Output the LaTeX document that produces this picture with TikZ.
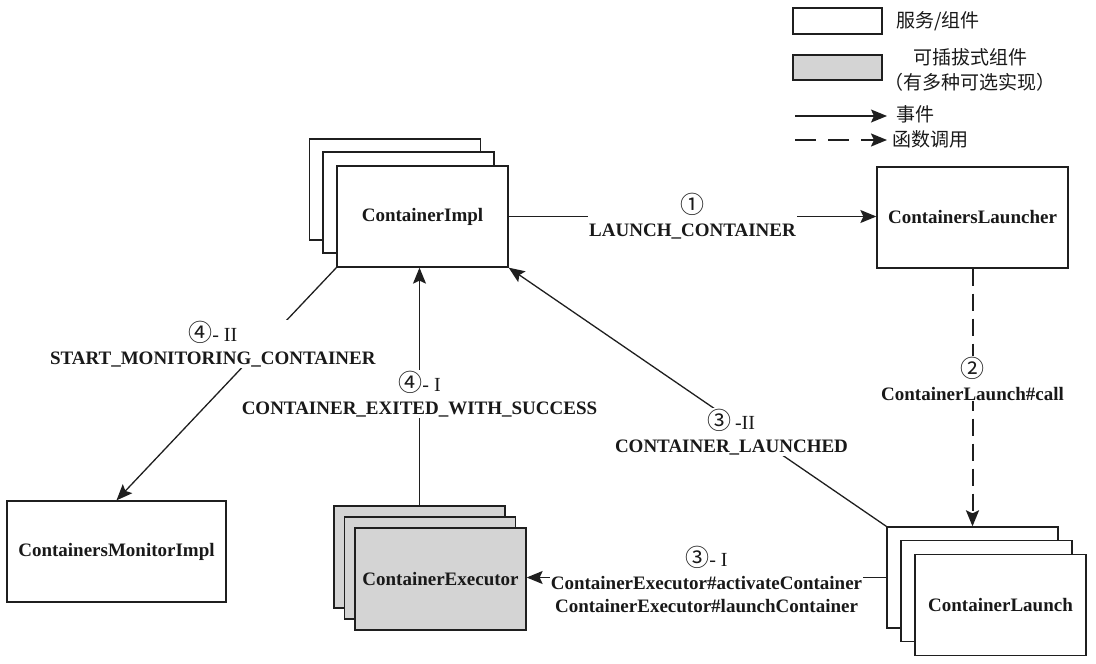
\documentclass[tikz,border=0pt]{standalone}
\usepackage{fontspec}
\setmainfont{Liberation Serif}
\newfontfamily\cjk{Noto Sans CJK SC}
\usetikzlibrary{arrows.meta}
\newcommand\circnum[1]{{\cjk\mdseries\fontsize{24}{23}\selectfont #1}}
\newcommand\rmnum[1]{{\mdseries\fontsize{20}{23}\selectfont #1}}
\begin{document}
\begin{tikzpicture}[x=1pt,y=-1pt,
  box/.style={draw=black!88, line width=1.3pt, fill=white, minimum width=171pt,
    minimum height=101pt, inner sep=0pt, text=black!90,
    font=\fontsize{19}{22}\selectfont\bfseries},
  plug/.style={box, fill=black!17},
  tip/.style={-{Stealth[length=16pt,width=13pt,inset=3pt]}},
  evt/.style={tip, draw=black!88, line width=1.3pt},
  fcall/.style={evt, line width=2pt, dash pattern=on 17pt off 8pt},
  lbl/.style={fill=white, align=center, inner sep=1pt, text=black!90,
    font=\fontsize{19}{23}\selectfont\bfseries},
  legtxt/.style={text=black!90, inner sep=0pt, font=\cjk\fontsize{19}{25}\selectfont}
]
\useasboundingbox (0,0) rectangle (1096,664);

% ---------- legend ----------
\node[box, minimum width=89pt, minimum height=26pt] (legsvc) at (837.5,21) {};
\node[legtxt, anchor=west] (legsvctxt) at (896,21) {服务/组件};
\node[plug, minimum width=89pt, minimum height=25pt] (legplug) at (837.5,67.5) {};
\node[legtxt, align=center] (legplugtxt) at (970,70) {可插拔式组件\\（有多种可选实现）};
\coordinate (evA) at (795,116);
\coordinate (evB) at (887,116);
\draw[evt] (evA) -- (evB);
\node[legtxt, anchor=west] (evtxt) at (896,114) {事件};
\coordinate (fcA) at (795,140);
\coordinate (fcB) at (887,140);
\draw[evt, line width=2pt, dash pattern=on 21pt off 12pt] (fcA) -- (fcB);
\node[legtxt, anchor=west] (fctxt) at (892,139) {函数调用};

% ---------- ContainerImpl stack ----------
\node[box] (ciB) at (395,189.5) {};
\node[box] (ciM) at (408.5,202.5) {};
\node[box] (ci) at (422.5,216.5) {ContainerImpl};

% ---------- ContainersLauncher ----------
\node[box, minimum width=191pt] (cl) at (972.5,217.5) {ContainersLauncher};

% ---------- ContainersMonitorImpl ----------
\node[box, minimum width=219pt] (cmi) at (116.5,551.5) {ContainersMonitorImpl};

% ---------- ContainerExecutor stack ----------
\node[plug, minimum height=102pt] (ceB) at (419.5,557) {};
\node[plug, minimum height=102pt] (ceM) at (430,568) {};
\node[plug, minimum height=102pt] (ce) at (440.5,579) {ContainerExecutor};

% ---------- ContainerLaunch stack ----------
\node[box] (clnB) at (972.5,577.5) {};
\node[box] (clnM) at (986.5,591) {};
\node[box] (cln) at (1000.5,605) {ContainerLaunch};

% ---------- connectors ----------
\draw[evt] (ci.east) -- node[lbl]{\circnum{①}\\LAUNCH\_CONTAINER} (ci.east -| cl.west);

\draw[fcall] (cl.south) -- node[lbl, pos=0.427]{\circnum{②}\\ContainerLaunch\#call} (clnB.north);

\draw[evt] (clnB.north west) -- node[lbl, pos=0.41, yshift=-12pt]{\circnum{③}\,\rmnum{-II}\\CONTAINER\_LAUNCHED} (ci.south east);

\draw[evt] (clnB.west) -- node[lbl, pos=0.5, yshift=-2pt]{\circnum{③}\rmnum{- I}\\ContainerExecutor\#activateContainer\\ContainerExecutor\#launchContainer} (clnB.west -| ce.east);

\draw[evt] (ceB.north) -- node[lbl, pos=0.469]{\circnum{④}\rmnum{- I}\\CONTAINER\_EXITED\_WITH\_SUCCESS} (ceB.north |- ci.south);

\draw[evt] (ci.south west) -- node[lbl, pos=0.33, xshift=-51pt]{\circnum{④}\rmnum{- II}\\START\_MONITORING\_CONTAINER} (cmi.north);
\end{tikzpicture}
\end{document}
